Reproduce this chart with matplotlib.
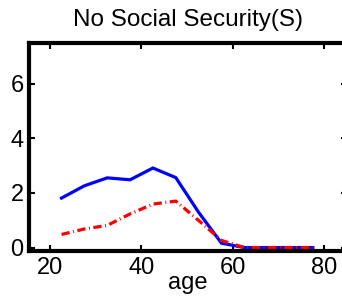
import matplotlib.pyplot as plt

plt.rcParams['font.family'] = ['Liberation Sans', 'DejaVu Sans']

# age groups and values
ages = [22.5, 27.5, 32.5, 37.5, 42.5, 47.5, 52.5, 57.5, 62.5, 67.5, 72.5, 77.5]
solid_vals = [1.81, 2.26, 2.55, 2.48, 2.91, 2.56, 1.29, 0.16, 0.0, 0.0, 0.0, 0.0]
dashed_vals = [0.48, 0.68, 0.81, 1.23, 1.59, 1.70, 0.99, 0.26, 0.0, 0.0, 0.0, 0.0]

fig = plt.figure(figsize=(3.42, 3.0), dpi=100)
ax = fig.add_axes([0.085, 0.163, 0.93, 0.695])

ax.plot(ages, solid_vals, color='#0000ff', linewidth=2.3, solid_joinstyle='miter')
ax.plot(ages, dashed_vals, color='#ff0000', linewidth=2.3,
        linestyle=(0, (2.6, 1.1, 0.3, 1.1)))

ax.set_xlim(15.4, 85)
ax.set_ylim(-0.13, 7.5)
ax.set_xticks([20, 40, 60, 80])
ax.set_yticks([0, 2, 4, 6])
ax.tick_params(direction='in', length=4, width=1.5, labelsize=17,
               top=True, right=True, pad=4)
for s in ax.spines.values():
    s.set_linewidth(3)

ax.set_title('No Social Security(S)', fontsize=17.5, pad=12)
ax.set_xlabel('age', fontsize=17, labelpad=-5)

fig.savefig('out.png', dpi=100)
